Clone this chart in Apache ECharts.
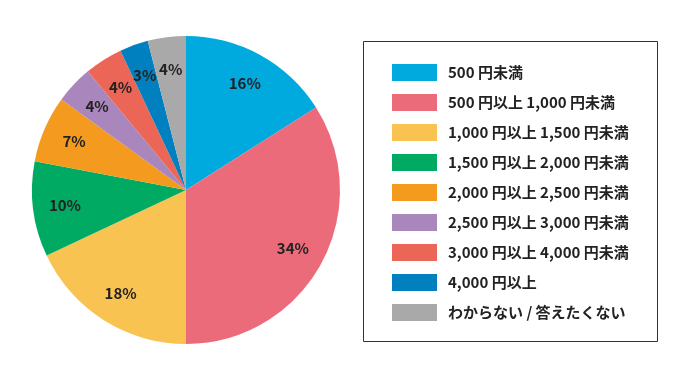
<!DOCTYPE html>
<html>
<head>
<meta charset="utf-8">
<script src="https://cdn.jsdelivr.net/npm/echarts@6/dist/echarts.min.js"></script>
<style>
html,body{margin:0;padding:0;background:#fff;}
#chart{width:690px;height:379px;}
</style>
</head>
<body>
<div id="chart"></div>
<script>
var categories = [
  '500 円未満',
  '500 円以上 1,000 円未満',
  '1,000 円以上 1,500 円未満',
  '1,500 円以上 2,000 円未満',
  '2,000 円以上 2,500 円未満',
  '2,500 円以上 3,000 円未満',
  '3,000 円以上 4,000 円未満',
  '4,000 円以上',
  'わからない / 答えたくない'
];
var values = [16, 34, 18, 10, 7, 4, 4, 3, 4];
var colors = ['#00AADF', '#EC6B7B', '#F9C352', '#00AA63', '#F39A1F', '#A986BC', '#EC6657', '#0080BE', '#A9A9A9'];

var FONT = '"Noto Sans CJK JP", "Noto Sans", sans-serif';

var pieData = categories.map(function (c, i) {
  return { name: c, value: values[i], itemStyle: { color: colors[i] } };
});
var labelData = categories.map(function (c, i) {
  return { name: c, value: values[i] };
});

var chart = echarts.init(document.getElementById('chart'), null, { renderer: 'canvas' });
chart.setOption({
  animation: false,
  backgroundColor: '#ffffff',
  graphic: [{
    type: 'rect',
    shape: { x: 363.5, y: 41.5, width: 294, height: 300 },
    style: { fill: 'none', stroke: '#333333', lineWidth: 1 },
    z: 0
  }],
  legend: {
    orient: 'vertical',
    left: 392,
    top: 64,
    padding: 0,
    itemWidth: 45,
    itemHeight: 17,
    itemGap: 13,
    icon: 'rect',
    data: categories,
    selectedMode: false,
    textStyle: {
      fontFamily: FONT,
      fontSize: 15,
      fontWeight: 'bold',
      color: '#222222',
      padding: [0, 0, 0, 6]
    }
  },
  series: [{
    type: 'pie',
    center: [186, 190],
    radius: [0, 154],
    startAngle: 90,
    clockwise: true,
    silent: true,
    label: { show: false },
    labelLine: { show: false },
    itemStyle: { borderWidth: 0 },
    data: pieData
  }, {
    type: 'pie',
    center: [186, 190],
    radius: [84, 154],
    startAngle: 90,
    clockwise: true,
    silent: true,
    itemStyle: { color: 'rgba(0,0,0,0)', borderWidth: 0 },
    label: {
      show: true,
      position: 'inside',
      formatter: '{c}%',
      fontFamily: FONT,
      fontSize: 15,
      fontWeight: 'bold',
      color: '#222222'
    },
    labelLine: { show: false },
    data: labelData
  }]
});
</script>
</body>
</html>
